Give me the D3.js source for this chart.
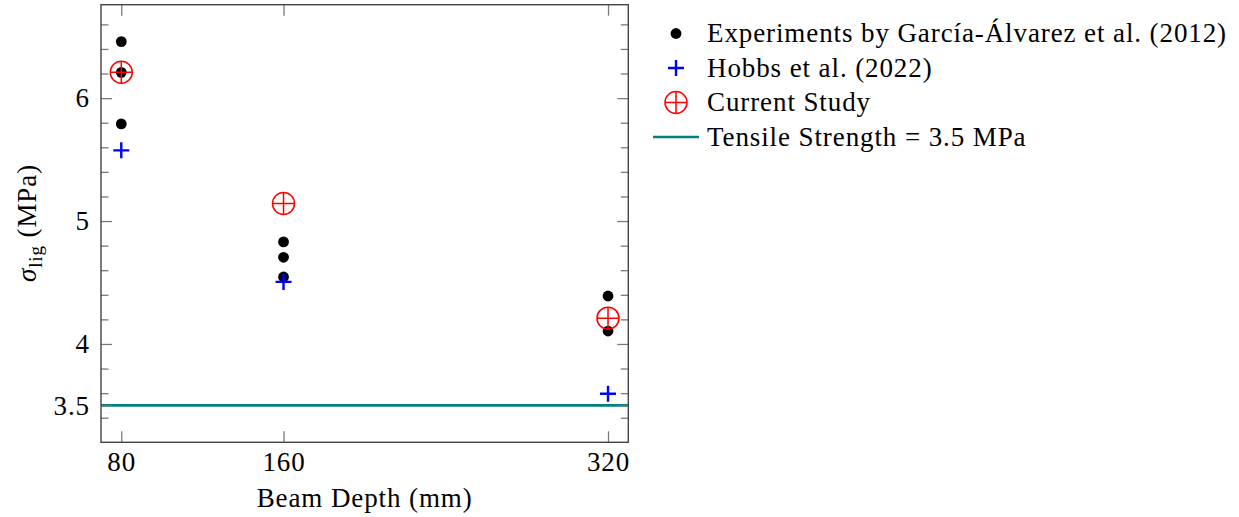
<!DOCTYPE html>
<html><head><meta charset="utf-8">
<script src="https://cdn.jsdelivr.net/npm/d3@7/dist/d3.min.js"></script>
<style>
body{margin:0;background:#fff;}
text{font-family:"Liberation Serif","Times New Roman",serif;fill:#000;letter-spacing:0.9px;}
</style></head>
<body><svg id="c" width="1239" height="517"></svg>
<script>
// ---- data ----
const expDepth = [80, 80, 80, 160, 160, 160, 320, 320];
const expSigma = [6.46, 6.21, 5.79, 4.83, 4.705, 4.545, 4.39, 4.105];
const hobbsDepth = [80, 160, 320];
const hobbsSigma = [5.575, 4.505, 3.595];
const currentDepth = [80, 160, 320];
const currentSigma = [6.21, 5.143, 4.21];
const tensileStrength = 3.5;
const xTickValues = [80, 160, 320];
const yMajorTicks = [3.5, 4, 5, 6];
const yMinorTicks = [3.4, 3.6, 3.8, 4.2, 4.4, 4.6, 4.8, 5.2, 5.4, 5.6, 5.8, 6.2, 6.4, 6.6];
const legendLabels = ["Experiments by García-Álvarez et al. (2012)", "Hobbs et al. (2022)", "Current Study", "Tensile Strength = 3.5 MPa"];
const xLabel = "Beam Depth (mm)";

const svg = d3.select("#c");
const L = 101, R = 628.3, T = 4.7, B = 442.3;
const x = d3.scaleLinear().domain([70, 330]).range([L, R]);
const y = d3.scaleLinear().domain([3.2, 6.76]).range([B, T]);
const fs = 27;

// tensile line
svg.append("line").attr("x1", L).attr("x2", R)
  .attr("y1", y(tensileStrength)).attr("y2", y(tensileStrength))
  .attr("stroke", "#008080").attr("stroke-width", 2.6);

function styleAxis(g, noText) {
  g.select(".domain").remove();
  g.selectAll("line").attr("stroke", "#7a7a7a").attr("stroke-width", 1.3);
  g.selectAll("text").attr("font-size", fs).attr("font-family", '"Liberation Serif",serif').attr("fill", "#000");
  if (noText) g.selectAll("text").remove();
}
// y axis left major
svg.append("g").attr("transform", `translate(${L},0)`)
  .call(d3.axisLeft(y).tickValues(yMajorTicks).tickSizeInner(-11).tickSizeOuter(0).tickPadding(11).tickFormat(d3.format("")))
  .call(g => styleAxis(g));
svg.append("g").attr("transform", `translate(${L},0)`)
  .call(d3.axisLeft(y).tickValues(yMinorTicks).tickSizeInner(-7.5).tickSizeOuter(0))
  .call(g => styleAxis(g, true));
// y axis right
svg.append("g").attr("transform", `translate(${R},0)`)
  .call(d3.axisRight(y).tickValues(yMajorTicks).tickSizeInner(-11).tickSizeOuter(0))
  .call(g => styleAxis(g, true));
svg.append("g").attr("transform", `translate(${R},0)`)
  .call(d3.axisRight(y).tickValues(yMinorTicks).tickSizeInner(-7.5).tickSizeOuter(0))
  .call(g => styleAxis(g, true));
// x axis bottom / top
svg.append("g").attr("transform", `translate(0,${B})`)
  .call(d3.axisBottom(x).tickValues(xTickValues).tickSizeInner(-11).tickSizeOuter(0).tickPadding(10).tickFormat(d3.format("")))
  .call(g => styleAxis(g));
svg.append("g").attr("transform", `translate(0,${T})`)
  .call(d3.axisTop(x).tickValues(xTickValues).tickSizeInner(-11).tickSizeOuter(0))
  .call(g => styleAxis(g, true));

// frame
svg.append("rect").attr("x", L).attr("y", T).attr("width", R - L).attr("height", B - T)
  .attr("fill", "none").attr("stroke", "#444").attr("stroke-width", 1.4);

// markers
function dot(g, cx, cy) { g.append("circle").attr("cx", cx).attr("cy", cy).attr("r", 5.4).attr("fill", "#000"); }
function plus(g, cx, cy) {
  g.append("path").attr("d", `M${cx - 8},${cy}H${cx + 8}M${cx},${cy - 8}V${cy + 8}`)
    .attr("stroke", "#0000ff").attr("stroke-width", 2.4).attr("fill", "none");
}
function oplus(g, cx, cy) {
  g.append("circle").attr("cx", cx).attr("cy", cy).attr("r", 11).attr("fill", "none").attr("stroke", "#ff0000").attr("stroke-width", 1.5);
  g.append("path").attr("d", `M${cx - 11},${cy}H${cx + 11}M${cx},${cy - 11}V${cy + 11}`)
    .attr("stroke", "#ff0000").attr("stroke-width", 1.5).attr("fill", "none");
}
const gExp = svg.append("g");
expDepth.forEach((d, i) => dot(gExp, x(d), y(expSigma[i])));
const gH = svg.append("g");
hobbsDepth.forEach((d, i) => plus(gH, x(d), y(hobbsSigma[i])));
const gC = svg.append("g");
currentDepth.forEach((d, i) => oplus(gC, x(d), y(currentSigma[i])));

// axis labels
svg.append("text").attr("x", (L + R) / 2).attr("y", 507).attr("text-anchor", "middle")
  .attr("font-size", fs).text(xLabel);
const yl = svg.append("text").attr("transform", "translate(36,223) rotate(-90)").attr("text-anchor", "middle").attr("font-size", fs);
yl.append("tspan").attr("font-style", "italic").text("σ");
yl.append("tspan").attr("font-size", 19).attr("dy", 6).text("lig");
yl.append("tspan").attr("dy", -6).text(" (MPa)");

// legend
const lg = svg.append("g");
const rowY = [33.5, 68, 102.5, 137];
const mx = 676;
dot(lg, mx, rowY[0]);
plus(lg, mx, rowY[1]);
oplus(lg, mx, rowY[2]);
lg.append("line").attr("x1", 653).attr("x2", 699).attr("y1", rowY[3]).attr("y2", rowY[3])
  .attr("stroke", "#008080").attr("stroke-width", 2.6);
legendLabels.forEach((t, i) => {
  lg.append("text").attr("x", 707).attr("y", rowY[i]).attr("dy", "0.33em").attr("font-size", fs).text(t);
});
</script></body></html>
